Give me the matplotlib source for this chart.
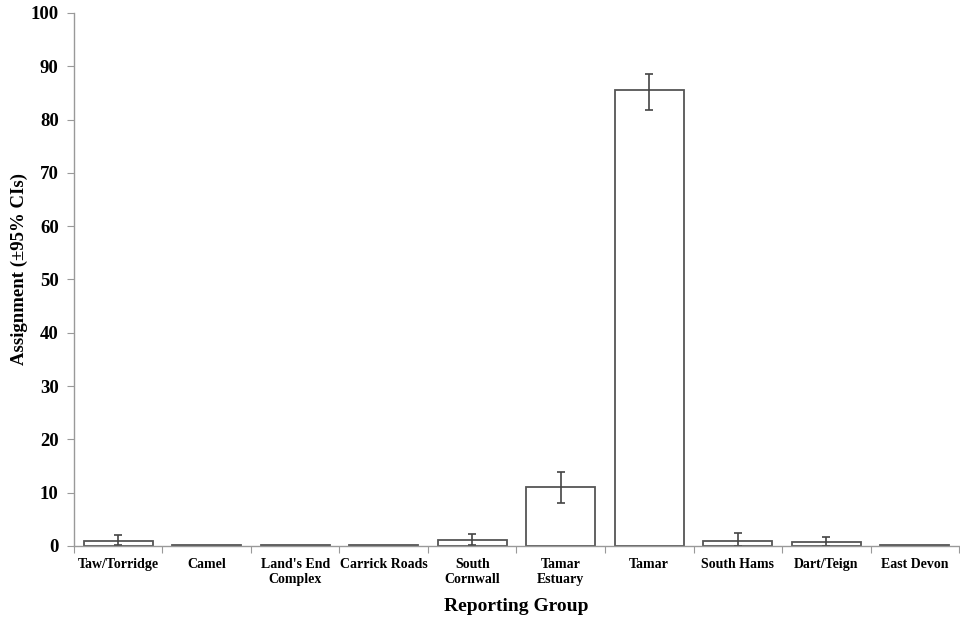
import numpy as np
import matplotlib.pyplot as plt

groups = ['Taw/Torridge', 'Camel', "Land's End\nComplex", 'Carrick Roads',
          'South\nCornwall', 'Tamar\nEstuary', 'Tamar', 'South Hams',
          'Dart/Teign', 'East Devon']
assign = [1.0, 0.1, 0.1, 0.1, 1.1, 11.0, 85.6, 0.9, 0.7, 0.1]
ci_low = [0.2, 0.1, 0.1, 0.1, 0.2, 8.1, 81.8, 0.0, 0.0, 0.1]
ci_high = [2.0, 0.1, 0.1, 0.1, 2.2, 13.9, 88.6, 2.4, 1.7, 0.1]

has_err = [True, False, False, False, True, True, True, True, True, False]

plt.rcParams['font.family'] = ['Liberation Serif', 'DejaVu Serif']
plt.rcParams['font.weight'] = 'bold'

fig = plt.figure(figsize=(9.6, 6.19), dpi=100)
ax = fig.add_axes([0.077, 0.118, 0.922, 0.861])

x = np.arange(len(groups))
a = np.array(assign)
lo = a - np.array(ci_low)
hi = np.array(ci_high) - a
ax.bar(x, a, width=0.78, color='white', edgecolor='#555555', linewidth=1.3)
idx = [i for i in range(len(groups)) if has_err[i]]
ax.errorbar(x[idx], a[idx], yerr=[lo[idx], hi[idx]], fmt='none',
            ecolor='#444444', elinewidth=1.2, capsize=3, capthick=1.2)

ax.set_xlim(-0.5, len(groups) - 0.5)
ax.set_ylim(0, 100)
ax.set_yticks(np.arange(0, 101, 10))
ax.set_xticks(np.arange(-0.5, len(groups), 1.0))
ax.set_xticklabels([])
ax.set_xticks(x, minor=True)
ax.set_xticklabels(groups, minor=True, fontsize=10, fontweight='bold',
                   linespacing=1.15, va='top')
ax.tick_params(axis='x', which='minor', length=0, pad=9)
ax.tick_params(axis='x', which='major', length=5, color='#999999')
ax.tick_params(axis='y', length=5, color='#999999', labelsize=13.5, pad=6)

for s in ['top', 'right']:
    ax.spines[s].set_visible(False)
for s in ['left', 'bottom']:
    ax.spines[s].set_color('#999999')
    ax.spines[s].set_linewidth(1.0)

ax.set_ylabel('Assignment (±95% CIs)', fontsize=13.5, fontweight='bold')
ax.yaxis.set_label_coords(-0.052, 0.52)
ax.set_xlabel('Reporting Group', fontsize=14, fontweight='bold', labelpad=9)

fig.savefig('out.png', dpi=100)
